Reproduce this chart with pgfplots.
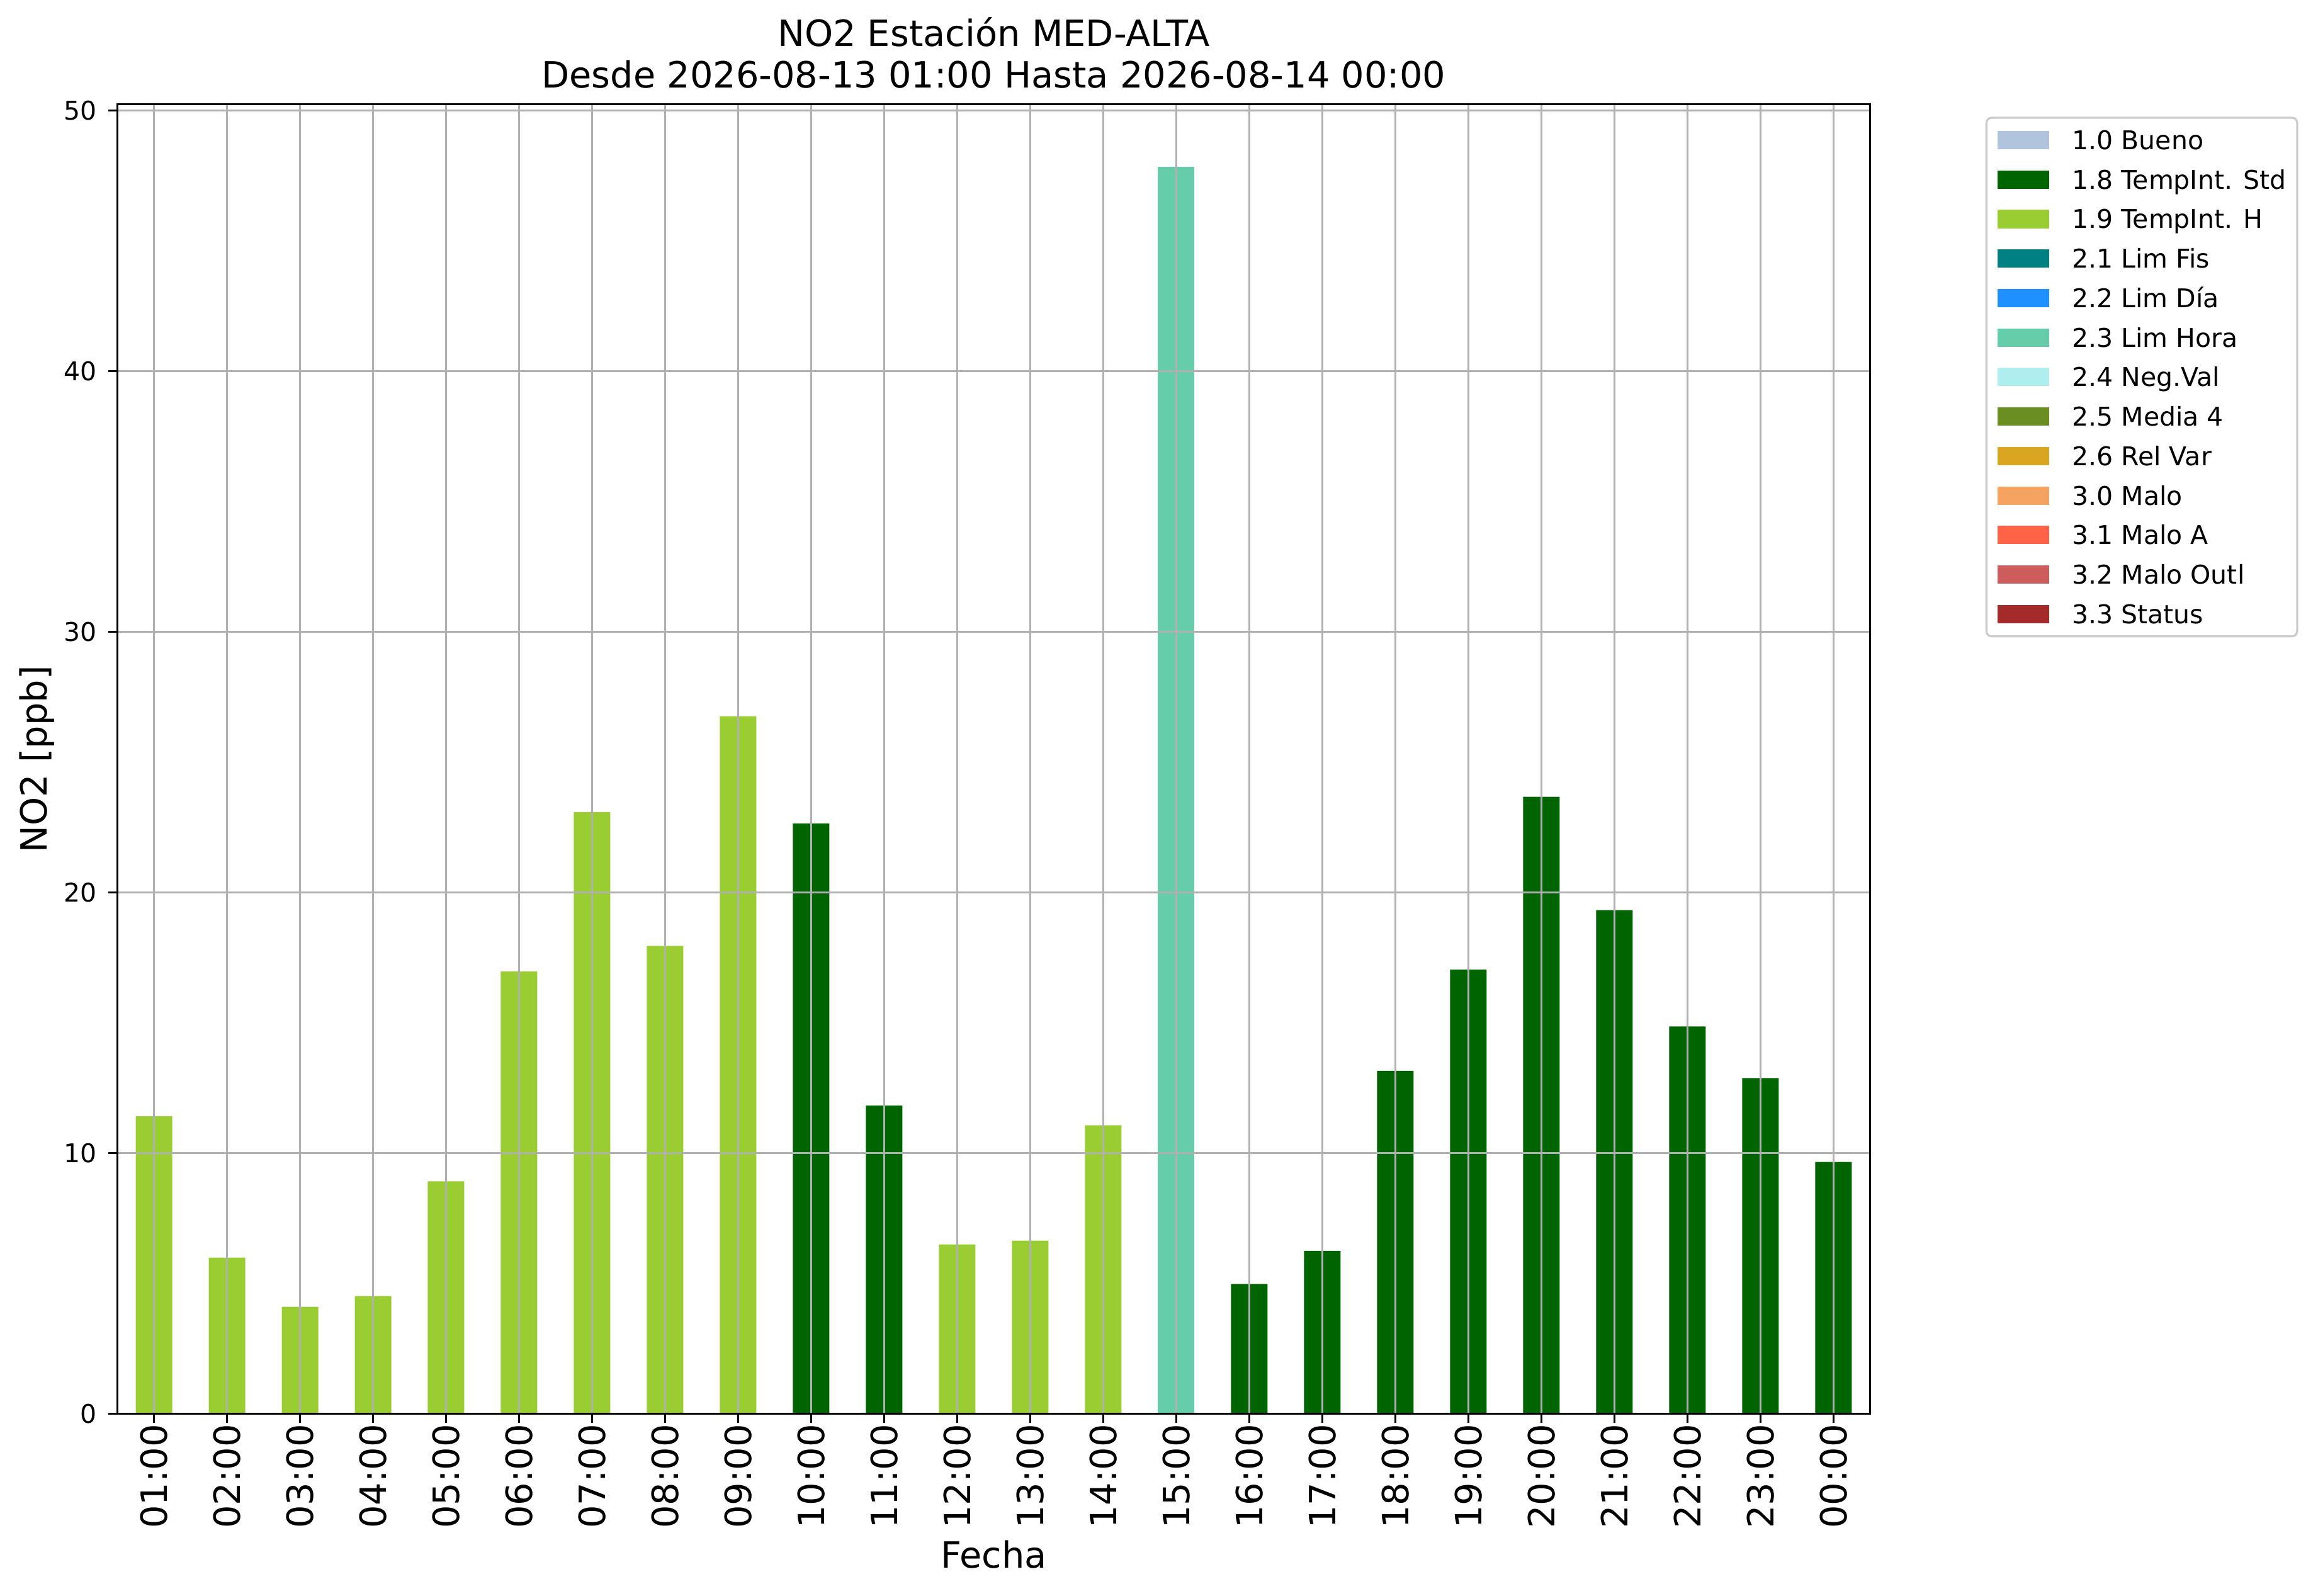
\documentclass[border=0pt]{standalone}
\usepackage{fontspec}
\setmainfont{DejaVu Sans}
\usepackage{pgfplots}
\pgfplotsset{compat=1.18}
\definecolor{cBueno}{HTML}{B0C4DE}
\definecolor{cStd}{HTML}{006400}
\definecolor{cH}{HTML}{9ACD32}
\definecolor{cFis}{HTML}{008080}
\definecolor{cDia}{HTML}{1E90FF}
\definecolor{cHora}{HTML}{66CDAA}
\definecolor{cNeg}{HTML}{AFEEEE}
\definecolor{cMedia}{HTML}{6B8E23}
\definecolor{cRel}{HTML}{DAA520}
\definecolor{cMalo}{HTML}{F4A460}
\definecolor{cMaloA}{HTML}{FF6347}
\definecolor{cOutl}{HTML}{CD5C5C}
\definecolor{cStatus}{HTML}{A52A2A}
\definecolor{gridgray}{HTML}{B0B0B0}
\definecolor{legedge}{HTML}{CCCCCC}
\begin{document}
\begin{tikzpicture}
\begin{axis}[
  name=ax,
  scale only axis,
  width=679pt, height=507.3pt,
  xmin=-0.5, xmax=23.5, ymin=0, ymax=50.23,
  xtick={0,...,23},
  xticklabels={01:00,02:00,03:00,04:00,05:00,06:00,07:00,08:00,09:00,10:00,11:00,12:00,13:00,14:00,15:00,16:00,17:00,18:00,19:00,20:00,21:00,22:00,23:00,00:00},
  ytick={0,10,20,30,40,50},
  yticklabels={0,10,20,30,40,50},
  tick pos=left, tick align=outside,
  major tick length=3.5pt,
  every tick/.style={black, line width=0.7pt},
  axis line style={line width=0.7pt},
  grid=major,
  major grid style={gridgray, line width=0.75pt},
  axis on top,
  xticklabel shift=0.3pt,
  yticklabel shift=4.4pt,
  xticklabel style={rotate=90, anchor=east, inner sep=0pt, font=\fontsize{14}{16.8}\selectfont},
  yticklabel style={anchor=east, inner sep=0pt, font=\fontsize{10}{12}\selectfont},
  xlabel={Fecha},
  xlabel style={at={(axis description cs:0.5,0)}, anchor=base, yshift=-59.8pt, font=\fontsize{14}{16.8}\selectfont},
  legend image code/.code={\path[draw=none, fill=none, sharp corners] (0pt,-7.65pt) rectangle (20.2pt,7.65pt); \fill[#1, sharp corners] (0pt,-3.55pt) rectangle (20.2pt,3.55pt);},
  legend cell align=left,
  legend style={at={(1,1)}, anchor=north west, xshift=44.7pt, yshift=-4.8pt,
    draw=legedge, line width=0.8pt, rounded corners=2pt, fill=white,
    inner xsep=4.2pt, inner ysep=1pt,
    /tikz/every even column/.style={column sep=0pt},
    column sep=8.8pt, row sep=0pt,
    nodes={inner sep=0pt, text height=7.3pt, text depth=0pt, font=\fontsize{10}{12}\selectfont}},
]
\addlegendimage{fill=cBueno, draw=none}\addlegendentry{1.0 Bueno}
\addlegendimage{fill=cStd, draw=none}\addlegendentry{1.8 TempInt. Std}
\addlegendimage{fill=cH, draw=none}\addlegendentry{1.9 TempInt. H}
\addlegendimage{fill=cFis, draw=none}\addlegendentry{2.1 Lim Fis}
\addlegendimage{fill=cDia, draw=none}\addlegendentry{2.2 Lim Día}
\addlegendimage{fill=cHora, draw=none}\addlegendentry{2.3 Lim Hora}
\addlegendimage{fill=cNeg, draw=none}\addlegendentry{2.4 Neg.Val}
\addlegendimage{fill=cMedia, draw=none}\addlegendentry{2.5 Media 4}
\addlegendimage{fill=cRel, draw=none}\addlegendentry{2.6 Rel Var}
\addlegendimage{fill=cMalo, draw=none}\addlegendentry{3.0 Malo}
\addlegendimage{fill=cMaloA, draw=none}\addlegendentry{3.1 Malo A}
\addlegendimage{fill=cOutl, draw=none}\addlegendentry{3.2 Malo Outl}
\addlegendimage{fill=cStatus, draw=none}\addlegendentry{3.3 Status}
% 1.9 TempInt. H
\addplot[ybar, bar width=0.5, bar shift=0pt, fill=cH, draw=none, forget plot] coordinates {
 (0,11.42) (1,5.99) (2,4.11) (3,4.52) (4,8.92) (5,16.97) (6,23.08) (7,17.95) (8,26.76)
 (11,6.50) (12,6.64) (13,11.07)};
% 1.8 TempInt. Std
\addplot[ybar, bar width=0.5, bar shift=0pt, fill=cStd, draw=none, forget plot] coordinates {
 (9,22.65) (10,11.83) (15,4.98) (16,6.25) (17,13.16) (18,17.04) (19,23.67) (20,19.32) (21,14.86) (22,12.88) (23,9.66)};
% 2.3 Lim Hora
\addplot[ybar, bar width=0.5, bar shift=0pt, fill=cHora, draw=none, forget plot] coordinates {
 (14,47.84)};
\end{axis}
\node[anchor=base, font=\fontsize{14}{16.8}\selectfont] at ([yshift=22.4pt]ax.north) {NO2 Estación MED-ALTA};
\node[anchor=base, font=\fontsize{14}{16.8}\selectfont] at ([yshift=6.5pt]ax.north) {Desde 2026-08-13 01:00 Hasta 2026-08-14 00:00};
\node[anchor=base, rotate=90, font=\fontsize{14}{16.8}\selectfont] at ([xshift=-27.4pt]ax.west) {NO2 [ppb]};
\pgfresetboundingbox
\path (-45.49pt,-70.32pt) rectangle (852.56pt,547.73pt);
\end{tikzpicture}
\end{document}
